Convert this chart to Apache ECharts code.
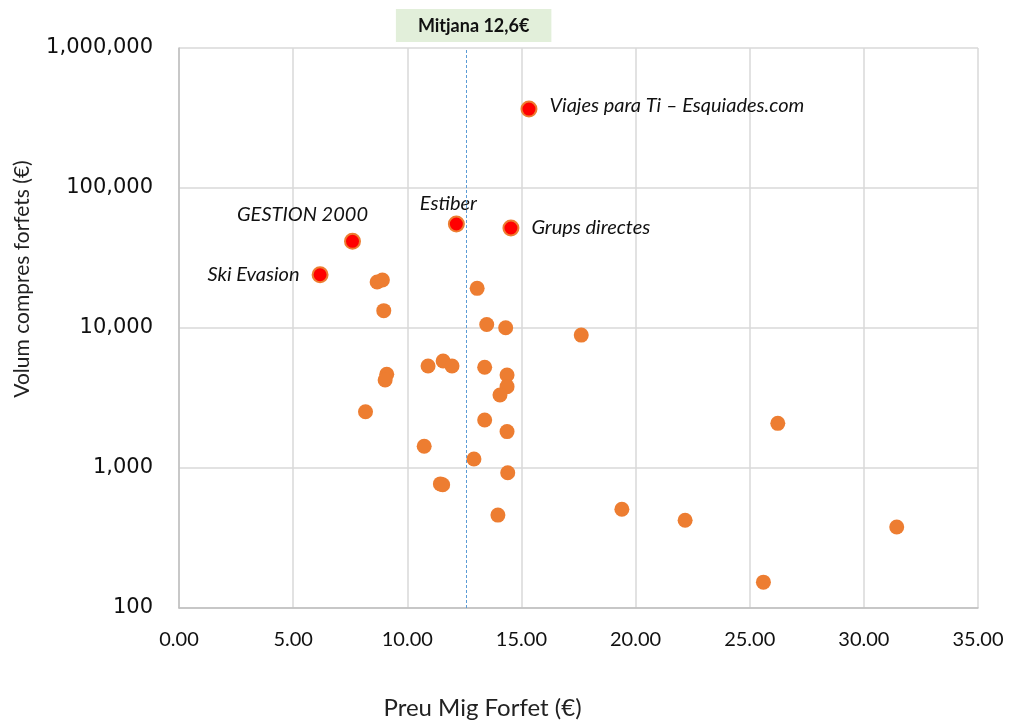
<!DOCTYPE html>
<html>
<head>
<meta charset="utf-8">
<script src="https://cdn.jsdelivr.net/npm/echarts@6/dist/echarts.min.js"></script>
<style>
  html, body { margin: 0; padding: 0; background: #fff; }
  #chart { width: 1014px; height: 722px; }
</style>
</head>
<body>
<div id="chart"></div>
<script>
// preu mig (x) i volum (y) dels operadors
const preuAltres = [8.68, 8.91, 13.06, 8.97, 13.48, 14.31, 17.62, 10.91, 11.57, 11.96, 13.39, 9.10, 9.03, 14.37, 14.37, 14.06, 8.17, 13.39, 14.37, 10.74, 12.92, 14.40, 11.45, 11.55, 13.97, 19.40, 22.17, 25.60, 31.44, 26.23]
const volumAltres = [21300, 22000, 19200, 13300, 10600, 10050, 8900, 5350, 5810, 5350, 5240, 4670, 4250, 4620, 3810, 3320, 2520, 2200, 1820, 1430, 1160, 925, 770, 760, 461, 507, 423, 153, 379, 2085]

// operadors destacats
const nomsDestacats = ['Viajes para Ti – Esquiades.com', 'Estiber', 'Grups directes', 'GESTION 2000', 'Ski Evasion']
const preuDestacats = [15.33, 12.15, 14.54, 7.60, 6.18]
const volumDestacats = [366000, 55300, 51800, 41600, 24000]
const posEtiqueta = ['right', 'top', 'right', 'top', 'left']

const mitjana = 12.6
const xTicks = [0, 5, 10, 15, 20, 25, 30, 35]

const chart = echarts.init(document.getElementById('chart'))

const altres = preuAltres.map((x, i) => [x, volumAltres[i]])
const destacats = preuDestacats.map((x, i) => {
  const item = { value: [x, volumDestacats[i]], name: nomsDestacats[i], label: { position: posEtiqueta[i] } }
  if (i === 0) item.label.offset = [0, -4]
  if (i === 1) item.label.offset = [-8, 10]
  if (i === 3) item.label.offset = [-50, 4]
  return item
})

const option = {
  animation: false,
  grid: { left: 179, right: 36, top: 48, bottom: 114, outerBoundsMode: 'none' },
  xAxis: {
    type: 'value',
    min: xTicks[0],
    max: xTicks[xTicks.length - 1],
    interval: 5,
    name: 'Preu Mig Forfet (€)',
    nameLocation: 'middle',
    nameGap: 88,
    nameTextStyle: { fontFamily: 'Lato', fontSize: 24, color: '#222', padding: [0, 192, 0, 0] },
    axisLine: { lineStyle: { color: '#bfbfbf', width: 1.5 } },
    axisTick: { show: false },
    axisLabel: {
      margin: 22,
      fontFamily: 'Lato',
      fontSize: 20,
      color: '#111',
      formatter: (v) => v.toFixed(2)
    },
    splitLine: { lineStyle: { color: '#d9d9d9', width: 1.5 } }
  },
  yAxis: {
    type: 'log',
    logBase: 10,
    min: 100,
    max: 1000000,
    name: 'Volum compres forfets (€)',
    nameLocation: 'middle',
    nameGap: 146,
    nameTextStyle: { fontFamily: 'Lato', fontSize: 21, color: '#222', padding: [0, 0, 0, 98] },
    axisLine: { show: true, lineStyle: { color: '#bfbfbf', width: 1.5 } },
    axisTick: { show: false },
    axisLabel: {
      margin: 26,
      fontFamily: 'DejaVu Sans',
      fontSize: 21,
      color: '#111',
      formatter: (v) => Number(v).toLocaleString('en-US')
    },
    splitLine: { lineStyle: { color: '#d9d9d9', width: 1.5 } }
  },
  series: [
    {
      type: 'scatter',
      data: altres,
      symbolSize: 15,
      itemStyle: { color: '#ed7d31', opacity: 1 },
      markLine: {
        silent: true,
        symbol: 'none',
        data: [{ xAxis: mitjana }],
        lineStyle: { color: '#5b9bd5', type: [3, 2], width: 1 },
        label: {
          show: true,
          position: 'end',
          distance: 6,
          offset: [7, 0],
          formatter: 'Mitjana 12,6€',
          fontFamily: 'Lato',
          fontWeight: 'bold',
          fontSize: 18,
          color: '#111',
          backgroundColor: '#e2efda',
          padding: [8, 22, 7, 22]
        }
      }
    },
    {
      type: 'scatter',
      data: destacats,
      symbolSize: 15,
      itemStyle: { color: '#ff0000', borderColor: '#ed7d31', borderWidth: 2, opacity: 1 },
      label: {
        show: true,
        formatter: '{b}',
        distance: 12,
        fontFamily: 'Lato',
        fontStyle: 'italic',
        fontSize: 20,
        color: '#111'
      }
    }
  ]
}

chart.setOption(option)
</script>
</body>
</html>
